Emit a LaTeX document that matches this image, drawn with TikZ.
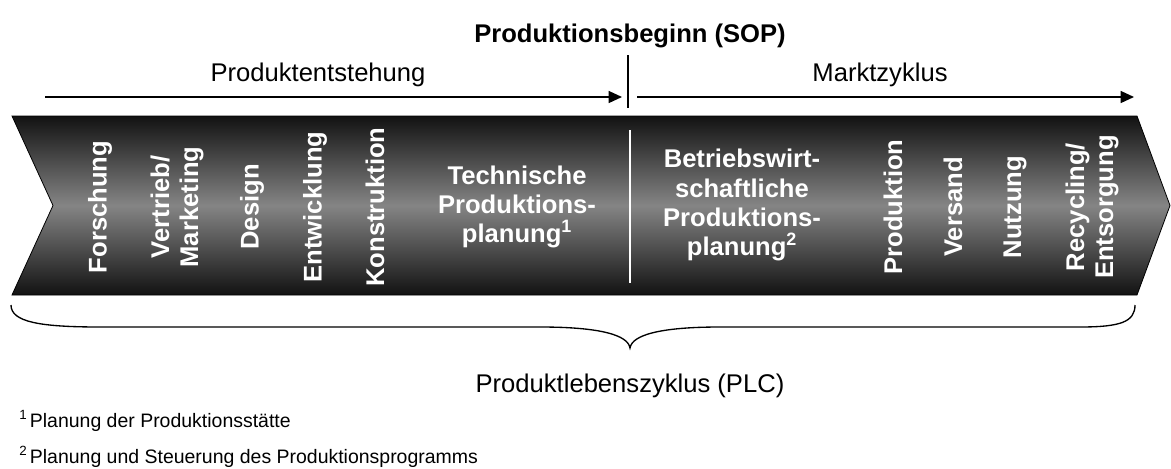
\documentclass[tikz,border=0pt]{standalone}
\usepackage{fontspec}
\setmainfont{Liberation Sans}
\usetikzlibrary{arrows.meta}
\begin{document}
\begin{tikzpicture}[x=0.75pt,y=-0.75pt,
  lbl/.style={font=\fontsize{19.2}{22}\selectfont,inner sep=0},
  title/.style={font=\fontsize{19.2}{22}\bfseries\selectfont,inner sep=0},
  stage/.style={text=white,font=\fontsize{19.2}{21.8}\bfseries\selectfont,align=center,inner sep=0},
  vstage/.style={stage,rotate=90},
  note/.style={font=\fontsize{14.6}{17}\selectfont,inner sep=0,anchor=base west},
  phase/.style={line width=1pt,-{Triangle[length=10pt,width=9pt]}},
  band/.style={draw=black,line width=0.6pt,top color=black!93,bottom color=black!93,middle color=black!48}]
\useasboundingbox (0,0) rectangle (1171,468);

% production start marker and phase arrows
\coordinate (sopTop) at (628,55);
\coordinate (sopBot) at (628,108);
\draw[line width=1.2pt] (sopTop) -- (sopBot);
\coordinate (peStart) at (45,97);
\coordinate (peEnd) at (622,97);
\coordinate (mzStart) at (637,97);
\coordinate (mzEnd) at (1134,97);
\draw[phase] (peStart) -- (peEnd);
\draw[phase] (mzStart) -- (mzEnd);

\node[title,anchor=base] (sop) at (630,42) {Produktionsbeginn (SOP)};
\node[lbl,anchor=base] (pe) at (318,81) {Produktentstehung};
\node[lbl,anchor=base] (mz) at (880,81) {Marktzyklus};

% chevron band
\shade[band] (12,116) -- (1137,116) -- (1170,205.5) -- (1137,295) -- (12,295) -- (53,205.5) -- cycle;

% divider inside the band
\coordinate (divTop) at (630,130);
\coordinate (divBot) at (630,283);
\draw[white,line width=1.3pt] (divTop) -- (divBot);

% stages
\node[vstage] (s1) at (100,207) {Forschung};
\node[vstage] (s2) at (177,207) {Vertrieb/\\Marketing};
\node[vstage] (s3) at (252,207) {Design};
\node[vstage] (s4) at (315,207) {Entwicklung};
\node[vstage] (s5) at (375,207) {Konstruktion};
\node[stage] (s6) at (517,207) {Technische\\Produktions-\\planung\textsuperscript{1}};
\node[stage] (s7) at (742,205) {Betriebswirt-\\schaftliche\\Produktions-\\planung\textsuperscript{2}};
\node[vstage] (s8) at (893,207) {Produktion};
\node[vstage] (s9) at (953,207) {Versand};
\node[vstage] (s10) at (1015,207) {Nutzung};
\node[vstage] (s11) at (1092,207) {Recycling/\\Entsorgung};

% brace under the band
\draw[line width=1pt] (11,305) .. controls (11,322) and (40,327) .. (100,327)
  -- (540,327) .. controls (600,327) and (628,335) .. (630,348)
  .. controls (632,335) and (660,327) .. (720,327)
  -- (1080,327) .. controls (1120,327) and (1135,322) .. (1135,305);

\node[lbl,anchor=base] (plc) at (630,392) {Produktlebenszyklus (PLC)};

% footnotes
\node[note] (fn1) at (19,427) {{\fontsize{10}{12}\selectfont\raisebox{0.55em}{1}}\,Planung der Produktionsstätte};
\node[note] (fn2) at (19,463) {{\fontsize{10}{12}\selectfont\raisebox{0.55em}{2}}\,Planung und Steuerung des Produktionsprogramms};
\end{tikzpicture}
\end{document}
